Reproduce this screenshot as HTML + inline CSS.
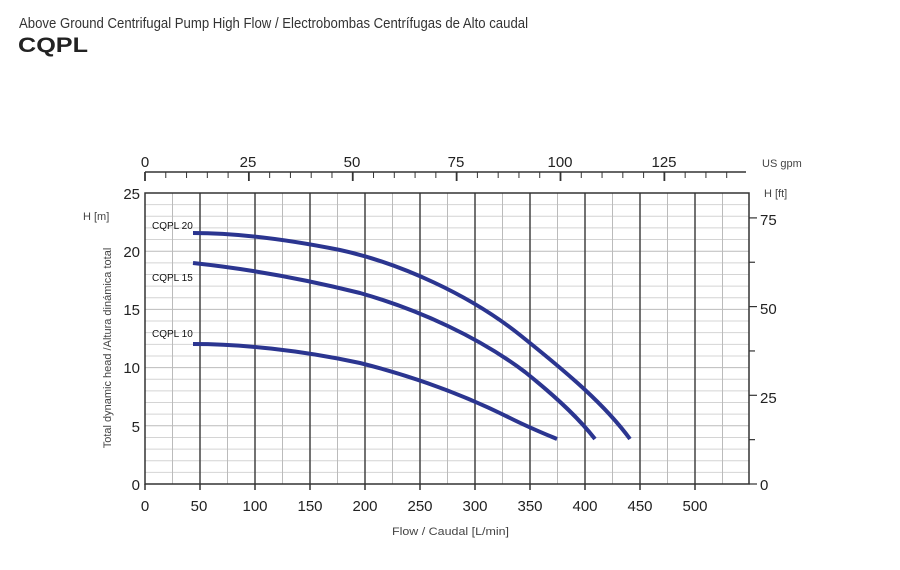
<!DOCTYPE html>
<html><head><meta charset="utf-8"><style>
html,body{margin:0;padding:0;background:#fff;}
svg{display:block;font-family:"Liberation Sans",sans-serif;}
</style></head><body>
<svg id="s" width="900" height="570" viewBox="0 0 900 570" xmlns="http://www.w3.org/2000/svg">
<rect width="900" height="570" fill="#fff"/>
<text x="19" y="28" font-size="15" fill="#333" textLength="509" lengthAdjust="spacingAndGlyphs">Above Ground Centrifugal Pump High Flow / Electrobombas Centrífugas de Alto caudal</text>
<text x="18" y="52" font-size="21" font-weight="bold" fill="#222" textLength="70" lengthAdjust="spacingAndGlyphs">CQPL</text>
<g id="grid"></g>
<rect x="145" y="193" width="604" height="291" fill="none" stroke="#333" stroke-width="1.5"/>
<line x1="145" y1="172" x2="746" y2="172" stroke="#333" stroke-width="1.5"/>
<g id="ticks" stroke="#333"></g>
<g font-size="15" fill="#222" text-anchor="middle">
<text x="145" y="167">0</text><text x="248" y="167">25</text><text x="352" y="167">50</text><text x="456" y="167">75</text><text x="560" y="167">100</text><text x="664" y="167">125</text>
<text x="145" y="511">0</text><text x="199" y="511">50</text><text x="255" y="511">100</text><text x="310" y="511">150</text><text x="365" y="511">200</text><text x="420" y="511">250</text><text x="475" y="511">300</text><text x="530" y="511">350</text><text x="585" y="511">400</text><text x="640" y="511">450</text><text x="695" y="511">500</text>
</g>
<g font-size="15" fill="#222" text-anchor="end">
<text x="140" y="199">25</text><text x="140" y="257">20</text><text x="140" y="315">15</text><text x="140" y="373">10</text><text x="140" y="432">5</text><text x="140" y="490">0</text>
</g>
<g font-size="15" fill="#222">
<text x="760" y="225">75</text><text x="760" y="314">50</text><text x="760" y="403">25</text><text x="760" y="490">0</text>
</g>
<g font-size="11" fill="#444">
<text x="762" y="167">US gpm</text>
<text x="764" y="197">H  [ft]</text>
<text x="83" y="220">H [m]</text>
<text x="392" y="535" textLength="117" lengthAdjust="spacingAndGlyphs">Flow / Caudal [L/min]</text>
<text transform="translate(111,348) rotate(-90)" text-anchor="middle">Total dynamic head /Altura dinámica total</text>
</g>
<g font-size="10" fill="#111">
<text x="152" y="229">CQPL 20</text>
<text x="152" y="281">CQPL 15</text>
<text x="152" y="337">CQPL 10</text>
</g>
<g fill="none" stroke="#2b3590" stroke-width="4" stroke-linecap="butt" stroke-linejoin="round">
<path d="M193,233 C230,233 280,238 340,250 C400,263 470,295 520,335 C570,375 605,405 630,439"/>
<path d="M193,263 C240,268 300,278 360,293 C420,310 480,338 525,372 C560,400 580,420 595,439"/>
<path d="M193,344 C240,344 300,350 360,363 C420,378 470,398 510,418 C530,428 545,434 557,439"/>
</g>
</svg>
<script>
var ns="http://www.w3.org/2000/svg",g=document.getElementById("grid"),t=document.getElementById("ticks");
function L(p,x1,y1,x2,y2,c,w){var l=document.createElementNS(ns,"line");l.setAttribute("x1",x1);l.setAttribute("y1",y1);l.setAttribute("x2",x2);l.setAttribute("y2",y2);l.setAttribute("stroke",c);l.setAttribute("stroke-width",w);p.appendChild(l);}
for(var h=1;h<25;h++){var y=484-h*11.64;L(g,145,y,749,y,h%5==0?"#bbb":"#d4d4d4",1);}
for(var q=25;q<549;q+=25){var x=145+q*1.1;L(g,x,193,x,484,q%50==0?"#444":"#bbb",q%50==0?1.5:1);}
for(var q=0;q<=500;q+=50){var x=145+q*1.1;L(t,x,484,x,490,"#333",1.5);}
for(var m=0;m<=140;m+=5){var x=145+m*4.155;if(x>747)break;L(t,x,172,x,m%25==0?181:178,"#333",m%25==0?1.8:1);}
for(var f=0;f<=75;f+=12.5){var y=484-f*3.548;L(t,749,y,f%25==0?757:755,y,"#333",1.2);}
</script>
</body></html>
